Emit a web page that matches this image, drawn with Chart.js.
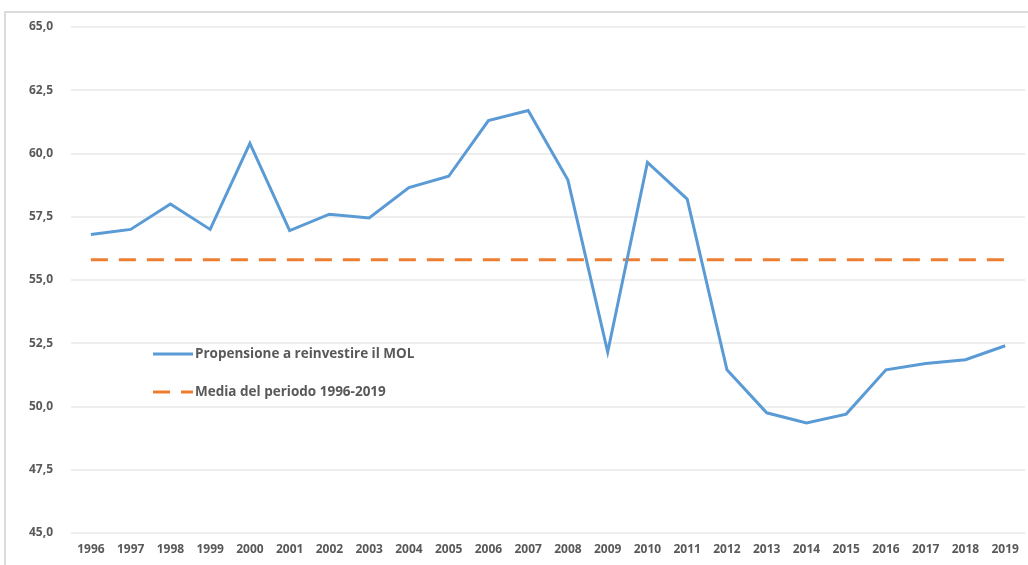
<!DOCTYPE html>
<html>
<head>
<meta charset="utf-8">
<script src="https://cdn.jsdelivr.net/npm/chart.js@4.4.1/dist/chart.umd.min.js"></script>
<style>
  html, body { margin: 0; padding: 0; background: #fff; overflow: hidden; }
  #frame { position: absolute; left: 4px; top: 11px; width: 1040px; height: 580px;
           border-left: 2px solid #dcdcdc; border-top: 2px solid #dcdcdc; }
  #wrap { position: absolute; left: 0; top: 0; width: 1028px; height: 565px; }
</style>
</head>
<body>
<div id="frame"></div>
<div id="wrap"><canvas id="chart_mol"></canvas></div>
<script>
var years = ["1996","1997","1998","1999","2000","2001","2002","2003","2004","2005","2006","2007",
             "2008","2009","2010","2011","2012","2013","2014","2015","2016","2017","2018","2019"];
var propensione = [56.8, 57.0, 58.0, 57.0, 60.4, 56.95, 57.6, 57.45, 58.65, 59.1, 61.3, 61.7,
                   58.95, 52.15, 59.65, 58.2, 51.45, 49.75, 49.35, 49.7, 51.45, 51.7, 51.85, 52.4];
var media = [55.8, 55.8, 55.8, 55.8, 55.8, 55.8, 55.8, 55.8, 55.8, 55.8, 55.8, 55.8,
             55.8, 55.8, 55.8, 55.8, 55.8, 55.8, 55.8, 55.8, 55.8, 55.8, 55.8, 55.8];
var yTicks = [45, 47.5, 50, 52.5, 55, 57.5, 60, 62.5, 65];

var textColor = '#595959';

// legend drawn inside the plot, like the excel original
const innerLegend = {
  id: 'innerLegend',
  afterDraw(chart) {
    const ctx = chart.ctx;
    const sets = chart.data.datasets;
    const x0 = 153, rows = [354, 392];
    ctx.save();
    ctx.font = 'bold 13.5px "Open Sans", sans-serif';
    ctx.textBaseline = 'middle';
    ctx.fillStyle = textColor;
    sets.forEach((ds, i) => {
      const y = rows[i];
      ctx.strokeStyle = ds.borderColor;
      ctx.lineWidth = ds.borderWidth;
      ctx.setLineDash(ds.borderDash ? [17, 11] : []);
      ctx.beginPath();
      ctx.moveTo(x0, y);
      ctx.lineTo(x0 + 40, y);
      ctx.stroke();
      ctx.setLineDash([]);
      ctx.fillText(ds.label, x0 + 42, y);
    });
    ctx.restore();
  }
};

var ctx = document.getElementById('chart_mol').getContext('2d');
var chart = new Chart(ctx, {
  type: 'line',
  data: {
    labels: years,
    datasets: [
      {
        label: 'Propensione a reinvestire il MOL',
        data: propensione,
        borderColor: '#5b9bd5',
        borderWidth: 3,
        pointRadius: 0,
        tension: 0,
      },
      {
        label: 'Media del periodo 1996-2019',
        data: media,
        borderColor: '#ed7d31',
        borderWidth: 3,
        borderDash: [17, 11],
        pointRadius: 0,
      },
    ],
  },
  options: {
    responsive: true,
    maintainAspectRatio: false,
    animation: false,
    layout: { padding: { left: 0, top: 27, right: 2, bottom: 0 } },
    plugins: {
      legend: { display: false },
      tooltip: { enabled: false },
    },
    scales: {
      x: {
        offset: true,
        grid: { display: false, drawTicks: false },
        border: { display: false },
        ticks: {
          padding: 9,
          maxRotation: 0,
          autoSkip: false,
          color: textColor,
          font: { family: 'Open Sans', size: 12, weight: 'bold' },
        },
        afterFit: (s) => { s.height = 32; },
      },
      y: {
        min: 45,
        max: 65,
        afterBuildTicks: (s) => { s.ticks = yTicks.map(v => ({ value: v })); },
        grid: { color: '#eeeeee', lineWidth: 2, drawTicks: false },
        border: { display: false },
        ticks: {
          padding: 18,
          color: textColor,
          font: { family: 'Open Sans', size: 12, weight: 'bold' },
          callback: (v) => v.toFixed(1).replace('.', ','),
        },
        afterFit: (s) => { s.width = 71; },
      },
    },
  },
  plugins: [innerLegend],
});
</script>
</body>
</html>
